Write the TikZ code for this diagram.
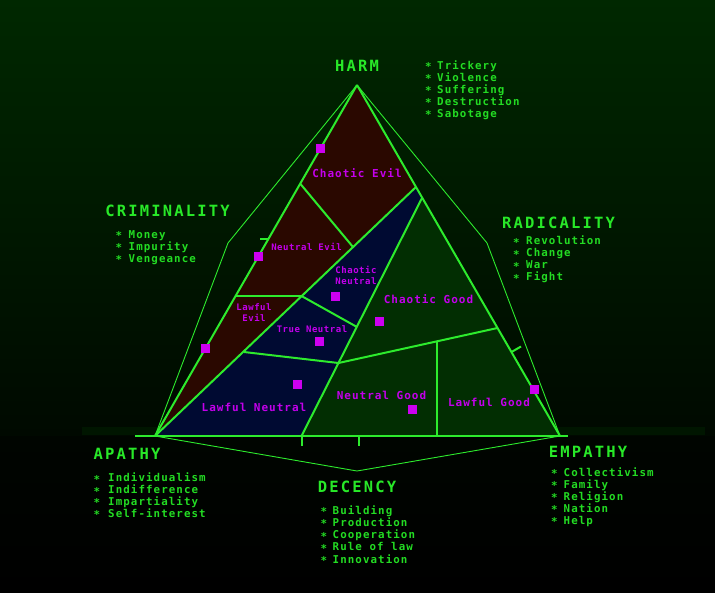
\documentclass[tikz,border=0pt]{standalone}
\usepackage{fontspec}
\newfontfamily\fTitle[LetterSpace=14]{DejaVu Sans Mono}
\newfontfamily\fList[LetterSpace=10]{DejaVu Sans Mono}
\newfontfamily\fBig[LetterSpace=9]{DejaVu Sans Mono}
\newfontfamily\fSmall[LetterSpace=6]{DejaVu Sans Mono}
\definecolor{lg}{RGB}{45,235,45}
\definecolor{tg}{RGB}{40,232,40}
\definecolor{lt}{RGB}{35,220,35}
\definecolor{mag}{RGB}{204,0,240}
\definecolor{mt}{RGB}{195,0,235}
\definecolor{redf}{RGB}{42,8,0}
\definecolor{bluef}{RGB}{0,10,50}
\definecolor{greenf}{RGB}{2,46,2}
\definecolor{bgtop}{RGB}{0,40,0}
\definecolor{bgmid}{RGB}{0,9,0}
\definecolor{bgband}{RGB}{0,22,0}
\definecolor{bglow}{RGB}{0,5,0}
\begin{document}
\begin{tikzpicture}[x=1pt,y=-1pt,
  edge/.style={draw=lg, line width=2pt, line join=round},
  thin/.style={draw=lg, line width=0.9pt, line join=round},
  sq/.style={fill=mag, minimum size=9pt, inner sep=0pt, draw=none},
  ttl/.style={text=tg, font=\fTitle\bfseries\fontsize{15.5}{15.5}\selectfont, anchor=base, inner sep=0pt},
  lst/.style={text=lt, font=\fList\bfseries\fontsize{10.8}{12}\selectfont, anchor=base west, inner sep=0pt},
  bul/.style={text=lt, font=\fList\bfseries\fontsize{10.8}{12}\selectfont, anchor=base west, inner sep=0pt},
  mbig/.style={text=mt, font=\fBig\bfseries\fontsize{11}{11}\selectfont, anchor=base, inner sep=0pt},
  msmall/.style={text=mt, font=\fSmall\bfseries\fontsize{9}{9}\selectfont, anchor=base, inner sep=0pt}]
\useasboundingbox (0,0) rectangle (715,592);
% background
\shade[top color=bgtop, bottom color=bgmid] (0,0) rectangle (715,436);
\fill[bgband] (82,427) rectangle (705,435);
\shade[top color=bglow, bottom color=black] (0,436) rectangle (715,592);
% key points
\coordinate (A) at (357,85);
\coordinate (L) at (155,436);
\coordinate (R) at (560,436);
\coordinate (OL) at (228,243);
\coordinate (OR) at (487,243);
\coordinate (OB) at (357,471);
\coordinate (P1) at (416,187);
\coordinate (P2) at (422,198);
\coordinate (P3) at (301.5,436);
\coordinate (E1) at (300.5,184);
\coordinate (E2) at (353,247);
\coordinate (E3) at (235.6,296);
\coordinate (E4) at (301.5,296);
\coordinate (N1) at (357,327);
\coordinate (N2) at (244,352);
\coordinate (N3) at (338.5,363);
\coordinate (G1) at (497.5,328);
\coordinate (G2) at (437,341.3);
\coordinate (G3) at (437,436);
\coordinate (BL0) at (135,436);
\coordinate (BR0) at (568,436);
% region fills
\fill[redf] (A) -- (P1) -- (L) -- cycle;
\fill[bluef] (P1) -- (P2) -- (P3) -- (L) -- cycle;
\fill[greenf] (P2) -- (R) -- (P3) -- cycle;
% outer thin hexagon
\draw[thin] (A) -- (OL) -- (L) -- (OB) -- (R) -- (OR) -- cycle;
% main triangle and boundaries
\draw[edge] (A) -- (L);
\draw[edge] (A) -- (R);
\draw[edge] (BL0) -- (BR0);
\draw[edge] (P1) -- (L);
\draw[edge] (P2) -- (P3);
\draw[edge] (E1) -- (E2);
\draw[edge] (E3) -- (E4);
\draw[edge] (E4) -- (N1);
\draw[edge] (N2) -- (N3);
\draw[edge] (N3) -- (G1);
\draw[edge] (G2) -- (G3);
% ticks
\coordinate (T1a) at (269,238.5); \coordinate (T1b) at (260,238.5);
\coordinate (T2a) at (511.5,352); \coordinate (T2b) at (521,346.5);
\coordinate (T3a) at (301.5,436); \coordinate (T3b) at (301.5,446);
\coordinate (T4a) at (359,436); \coordinate (T4b) at (359,446);
\draw[edge] (T1a) -- (T1b);
\draw[edge] (T2a) -- (T2b);
\draw[edge] (T3a) -- (T3b);
\draw[edge] (T4a) -- (T4b);
% squares
\node[sq] (s1) at (320.5,148) {};
\node[sq] (s2) at (258,256.5) {};
\node[sq] (s3) at (205.5,348) {};
\node[sq] (s4) at (335.5,296) {};
\node[sq] (s5) at (379,321) {};
\node[sq] (s6) at (319.5,341) {};
\node[sq] (s7) at (297.5,384) {};
\node[sq] (s8) at (412,409) {};
\node[sq] (s9) at (534,389.5) {};
% region labels
\node[mbig] (lce) at (357,177) {Chaotic Evil};
\node[msmall] (lne) at (306.5,250) {Neutral Evil};
\node[msmall] (lcn1) at (356,273.3) {Chaotic};
\node[msmall] (lcn2) at (356,284) {Neutral};
\node[msmall] (lle1) at (254,310.7) {Lawful};
\node[msmall] (lle2) at (254,321.5) {Evil};
\node[msmall] (ltn) at (312,332) {True Neutral};
\node[mbig] (lcg) at (428.5,303.3) {Chaotic Good};
\node[mbig] (lng) at (381.5,399) {Neutral Good};
\node[mbig] (lln) at (254,411.7) {Lawful Neutral};
\node[mbig] (llg) at (489,406.7) {Lawful Good};
% titles
\node[ttl] (harm) at (357,71) {HARM};
\node[ttl] (crim) at (167.5,216) {CRIMINALITY};
\node[ttl] (radi) at (558.5,228) {RADICALITY};
\node[ttl] (apat) at (127,459.5) {APATHY};
\node[ttl] (dece) at (357,492) {DECENCY};
\node[ttl] (empa) at (588,457) {EMPATHY};
% lists
\foreach \t [count=\i] in {Trickery,Violence,Suffering,Destruction,Sabotage}{
  \node[bul] (harmb\i) at (425,{69+12*(\i-1)+1.5}) {*};
  \node[lst] (harm\i) at (437,{69+12*(\i-1)}) {\t};}
\foreach \t [count=\i] in {Money,Impurity,Vengeance}{
  \node[bul] (crimb\i) at (115.5,{238+12*(\i-1)+1.5}) {*};
  \node[lst] (crim\i) at (128.5,{238+12*(\i-1)}) {\t};}
\foreach \t [count=\i] in {Revolution,Change,War,Fight}{
  \node[bul] (radib\i) at (513,{244.5+12*(\i-1)+1.5}) {*};
  \node[lst] (radi\i) at (526,{244.5+12*(\i-1)}) {\t};}
\foreach \t [count=\i] in {Individualism,Indifference,Impartiality,Self-interest}{
  \node[bul] (apatb\i) at (93.5,{481.7+11.8*(\i-1)+1.5}) {*};
  \node[lst] (apat\i) at (108,{481.7+11.8*(\i-1)}) {\t};}
\foreach \t [count=\i] in {Building,Production,Cooperation,Rule of law,Innovation}{
  \node[bul] (deceb\i) at (320.5,{514+12.3*(\i-1)+1.5}) {*};
  \node[lst] (dece\i) at (332.5,{514+12.3*(\i-1)}) {\t};}
\foreach \t [count=\i] in {Collectivism,Family,Religion,Nation,Help}{
  \node[bul] (empab\i) at (551,{476+12*(\i-1)+1.5}) {*};
  \node[lst] (empa\i) at (563.5,{476+12*(\i-1)}) {\t};}
\end{tikzpicture}
\end{document}
